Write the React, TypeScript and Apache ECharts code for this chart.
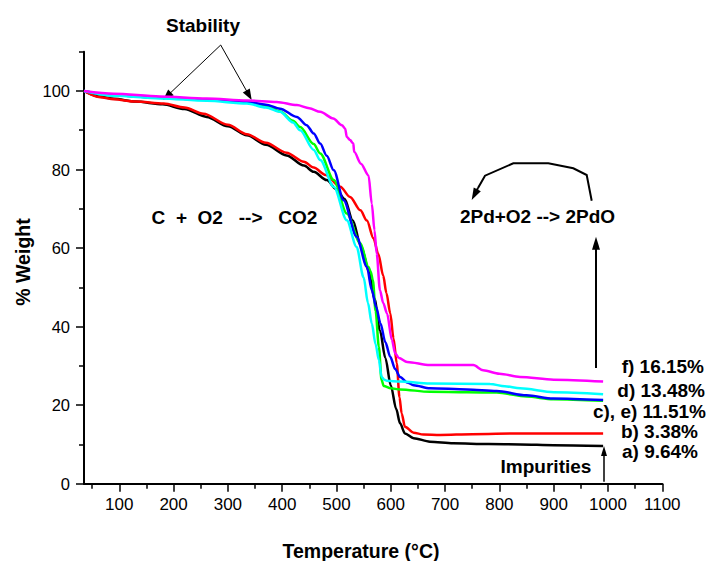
import React, { useEffect, useRef } from "react";
import * as echarts from "echarts";

const xMajorTicks = [100, 200, 300, 400, 500, 600, 700, 800, 900, 1000, 1100];
const xMinorTicks = [50, 150, 250, 350, 450, 550, 650, 750, 850, 950, 1050];
const yMajorTicks = [0, 20, 40, 60, 80, 100];
const yMinorTicks = [10, 30, 50, 70, 90, 110];

const seriesNames = ["a", "b", "c", "e", "d", "f"];
const seriesColors = ["#000000", "#FF0000", "#00FF00", "#0000FF", "#00FFFF", "#FF00FF"];

const curveA: number[][] = [
  [35, 100], [65, 98.5], [90, 98.0], [130, 97.3], [180, 96.6], [220, 95.4], [261, 93.4], [300, 91.0],
  [335, 88.7], [370, 86.3], [408, 83.6], [440, 81.0], [458, 79.4], [482, 77.3], [500, 75.0], [515, 72.5],
  [530, 67.0], [545, 60.5], [560, 54], [570, 47], [580, 39], [590, 32], [600, 25], [610, 19],
  [617, 15.4], [626, 12.8], [642, 11.6], [672, 10.7], [715, 10.3], [780, 10.1], [838, 10.0], [900, 9.8], [991, 9.6],
];
const curveB: number[][] = [
  [35, 100], [65, 98.4], [90, 97.9], [130, 97.3], [182, 96.8], [220, 95.8], [255, 94.2], [300, 91.4],
  [335, 89.0], [370, 86.8], [408, 84.3], [440, 82.0], [458, 80.5], [480, 78.6], [507, 75.6], [525, 73.0],
  [544, 69.6], [556, 67.0], [568, 62.5], [577, 58.5], [586, 53], [592, 48.5], [599, 43.4], [605, 37],
  [611, 30.6], [616, 22], [620, 17.9], [626, 14.5], [642, 13.0], [660, 12.5], [691, 12.4], [750, 12.6],
  [838, 12.8], [900, 12.8], [991, 12.8],
];
const curveC: number[][] = [
  [35, 100], [90, 98.9], [175, 98.3], [261, 97.8], [335, 97.2], [370, 96.2], [396, 94.8], [420, 92.4],
  [433, 90.8], [458, 86.5], [470, 84.1], [495, 77.3], [519, 68.8], [544, 61.2], [559, 55.2], [563, 54.0],
  [567, 51.8], [572, 44], [578, 34.9], [583, 26.4], [587, 24.9], [600, 24.3], [617, 24.0], [672, 23.4],
  [740, 23.3], [795, 23.2], [850, 22.2], [899, 21.5], [991, 21.1],
];
const curveE: number[][] = [
  [35, 100], [90, 98.9], [175, 98.3], [261, 97.8], [335, 97.2], [370, 96.5], [396, 95.5], [427, 93.4],
  [445, 91.3], [458, 89.2], [470, 86.6], [482, 83.5], [495, 79.8], [513, 72.2], [537, 62.9], [556, 55.2],
  [565, 49.3], [573, 45], [581, 40.8], [590, 36], [599, 32.3], [608, 29.2], [617, 27.2], [630, 25.8],
  [642, 25.1], [672, 24.3], [740, 24.0], [795, 23.6], [850, 22.5], [899, 21.7], [991, 21.3],
];
const curveD: number[][] = [
  [35, 100], [90, 98.8], [175, 98.1], [261, 97.5], [335, 96.8], [370, 95.8], [396, 94.7], [420, 92.0],
  [433, 90.0], [458, 85.0], [470, 82.4], [495, 75.6], [519, 67.1], [537, 60.3], [550, 52.5], [558, 46],
  [565, 40.8], [572, 35.5], [578, 31.5], [583, 27.2], [588, 26.5], [593, 26.2], [617, 26.0], [672, 25.5],
  [783, 25.4], [810, 24.8], [838, 24.3], [900, 23.3], [991, 22.8],
];
const curveF: number[][] = [
  [35, 100], [90, 99.3], [175, 98.6], [261, 98.1], [335, 97.6], [390, 97.2], [427, 96.4], [450, 95.6],
  [470, 94.7], [494, 93.0], [510, 91.3], [516, 90.4], [519, 88.3], [525, 87.5], [531, 86.6], [532.5, 84.5],
  [545, 81.5], [559, 78.5], [565, 71.3], [570, 64.5], [574, 58.6], [580, 49.3], [586, 46], [593, 43.4],
  [602, 36.6], [608, 33.2], [615, 32], [630, 31.0], [672, 30.2], [752, 30.2], [770, 28.9], [800, 28.0],
  [838, 27.2], [900, 26.5], [991, 26.0],
];
const curves = [curveA, curveB, curveC, curveE, curveD, curveF];

const endLabels = ["f) 16.15%", "d) 13.48%", "c), e) 11.51%", "b) 3.38%", "a) 9.64%"];

const FONT = '"Liberation Sans", Arial, sans-serif';
const BOLD = (s: number) => `bold ${s}px ${FONT}`;

function arrow(x1: number, y1: number, x2: number, y2: number, lw: number, hl: number, hw: number) {
  const len = Math.hypot(x2 - x1, y2 - y1);
  const dx = (x2 - x1) / len;
  const dy = (y2 - y1) / len;
  const bx = x2 - dx * hl;
  const by = y2 - dy * hl;
  const nx = -dy;
  const ny = dx;
  return [
    {
      type: "line",
      shape: { x1, y1, x2: x2 - dx * hl * 0.7, y2: y2 - dy * hl * 0.7 },
      style: { stroke: "#000", lineWidth: lw },
    },
    {
      type: "polygon",
      shape: { points: [[x2, y2], [bx + nx * hw, by + ny * hw], [bx - nx * hw, by - ny * hw]] },
      style: { fill: "#000" },
    },
  ];
}

export default function App() {
  const ref = useRef<HTMLDivElement>(null);
  useEffect(() => {
    document.body.style.margin = "0";
    const chart = echarts.init(ref.current!, null, { renderer: "svg" });
    const curvePts = [
      [591.7, 200.7], [586.7, 175], [573.3, 168.3], [548.3, 163.3], [513.3, 163.3], [485, 175.7], [478, 188],
    ];
    const labelY = [366, 390, 411.7, 431.7, 451.7];
    const labelX = [704, 705, 706, 698, 698];
    const option: any = {
      animation: false,
      backgroundColor: "#fff",
      grid: { left: 84, right: 46.7, top: 51.7, bottom: 77.3, containLabel: false, outerBoundsMode: "none" },
      xAxis: [
        {
          type: "value", min: 35, max: 1100, position: "bottom",
          axisLine: { show: true, onZero: false, lineStyle: { color: "#000", width: 2 } },
          axisTick: { show: true, inside: false, length: 8, customValues: xMajorTicks, lineStyle: { color: "#000", width: 1.5 } },
          axisLabel: {
            customValues: xMajorTicks, color: "#000", fontSize: 17, fontFamily: FONT, margin: 12,
            formatter: (v: number) => String(v),
          },
          splitLine: { show: false },
        },
        {
          type: "value", min: 35, max: 1100, position: "bottom",
          axisLine: { show: false },
          axisTick: { show: true, inside: false, length: 5, customValues: xMinorTicks, lineStyle: { color: "#000", width: 1.5 } },
          axisLabel: { show: false },
          splitLine: { show: false },
        },
      ],
      yAxis: [
        {
          type: "value", min: 0, max: 110, position: "left",
          axisLine: { show: true, onZero: false, lineStyle: { color: "#000", width: 2 } },
          axisTick: { show: true, inside: false, length: 8, customValues: yMajorTicks, lineStyle: { color: "#000", width: 1.5 } },
          axisLabel: {
            customValues: yMajorTicks, color: "#000", fontSize: 16.5, fontFamily: FONT, margin: 14,
            formatter: (v: number) => String(v),
          },
          splitLine: { show: false },
        },
        {
          type: "value", min: 0, max: 110, position: "left",
          axisLine: { show: false },
          axisTick: { show: true, inside: false, length: 5, customValues: yMinorTicks, lineStyle: { color: "#000", width: 1.5 } },
          axisLabel: { show: false },
          splitLine: { show: false },
        },
      ],
      series: curves.map((d, i) => ({
        name: seriesNames[i],
        type: "line",
        data: d,
        xAxisIndex: 0,
        yAxisIndex: 0,
        showSymbol: false,
        smooth: 0.3,
        smoothMonotone: "x",
        lineStyle: { color: seriesColors[i], width: 2.5 },
        itemStyle: { color: seriesColors[i] },
      })),
      graphic: [
        {
          type: "text", x: 23, y: 262, rotation: Math.PI / 2,
          style: { text: "% Weight", font: BOLD(19.5), fill: "#000", textAlign: "center", textVerticalAlign: "middle" },
        },
        {
          type: "text", x: 361, y: 551,
          style: { text: "Temperature (°C)", font: BOLD(19.5), fill: "#000", textAlign: "center", textVerticalAlign: "middle" },
        },
        {
          type: "text", x: 203, y: 25,
          style: { text: "Stability", font: BOLD(19), fill: "#000", textAlign: "center", textVerticalAlign: "middle" },
        },
        ...arrow(220.7, 45, 163, 100, 1, 11, 4),
        ...arrow(220.7, 45, 251.7, 100, 1, 11, 4),
        {
          type: "text", x: 234.5, y: 217,
          style: { text: "C  +  O2   -->   CO2", font: BOLD(19), fill: "#000", textAlign: "center", textVerticalAlign: "middle" },
        },
        {
          type: "text", x: 537.5, y: 216,
          style: { text: "2Pd+O2 --> 2PdO", font: BOLD(19), fill: "#000", textAlign: "center", textVerticalAlign: "middle" },
        },
        {
          type: "polyline",
          shape: { points: curvePts },
          style: { stroke: "#000", lineWidth: 2, fill: null },
        },
        ...arrow(478, 188, 471.7, 200, 2, 12, 4),
        ...arrow(596, 368, 596, 236.7, 2, 13, 4),
        ...arrow(604, 481.7, 604, 446, 1.5, 10, 3),
        {
          type: "text", x: 546, y: 466.7,
          style: { text: "Impurities", font: BOLD(19), fill: "#000", textAlign: "center", textVerticalAlign: "middle" },
        },
        ...endLabels.map((t, i) => ({
          type: "text", x: labelX[i], y: labelY[i],
          style: { text: t, font: BOLD(19), fill: "#000", textAlign: "right", textVerticalAlign: "middle" },
        })),
      ],
    };
    chart.setOption(option);
    return () => chart.dispose();
  }, []);
  return <div ref={ref} style={{ width: 709, height: 561 }} />;
}
